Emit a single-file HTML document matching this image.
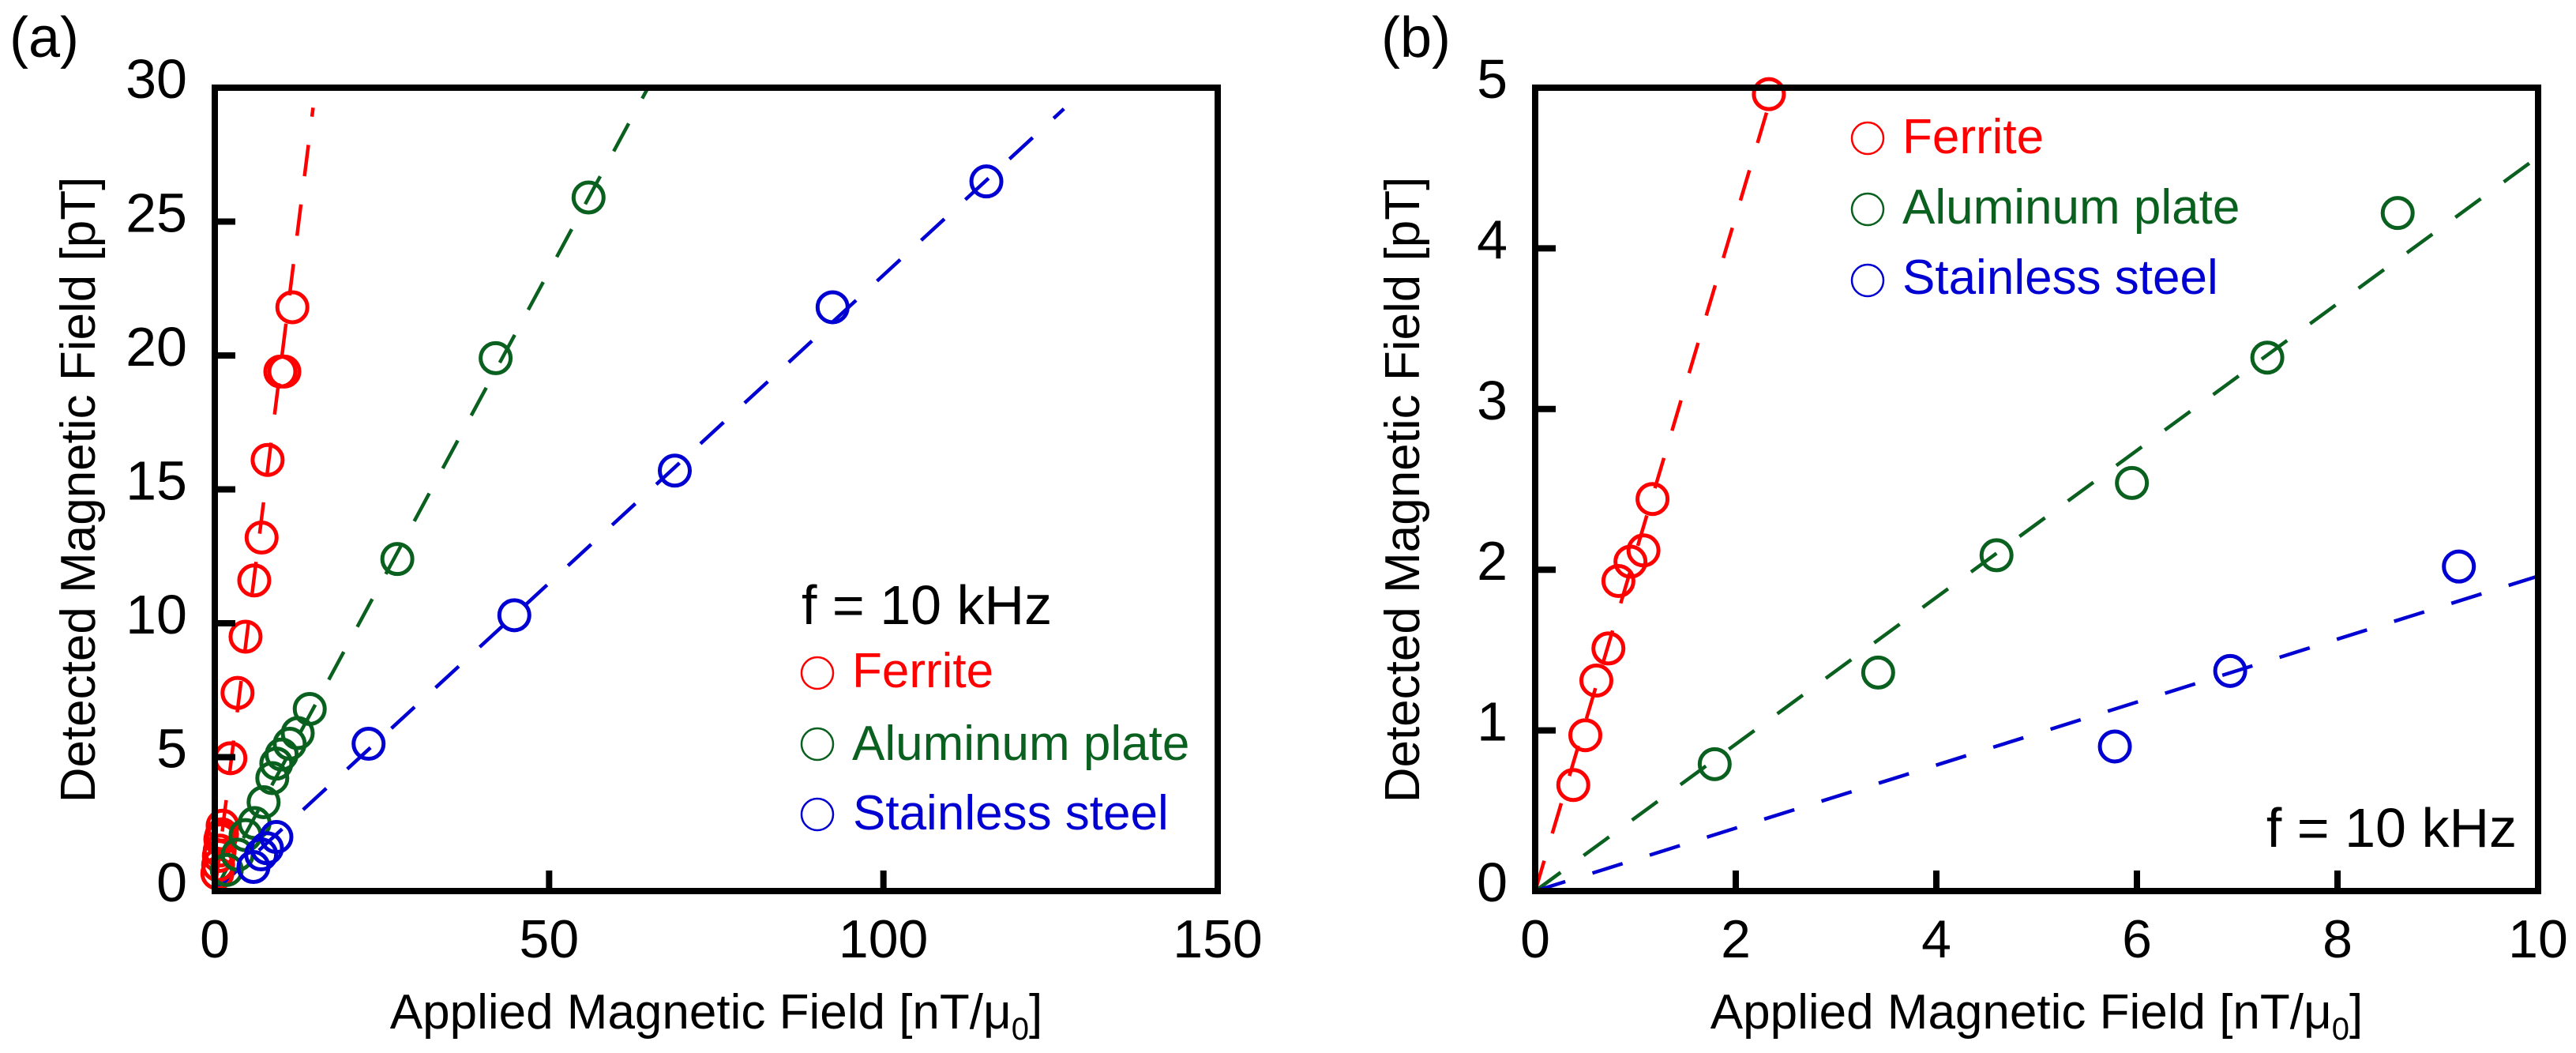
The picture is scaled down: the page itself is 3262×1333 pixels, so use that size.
<!DOCTYPE html>
<html><head><meta charset="utf-8"><style>
html,body{margin:0;padding:0;background:#fff;}
svg{display:block;font-family:"Liberation Sans",Arial,sans-serif;}
</style></head><body>
<svg id="chart" width="3262" height="1333" viewBox="0 0 3262 1333" xmlns="http://www.w3.org/2000/svg">
<rect width="3262" height="1333" fill="#fff"/>
<g id="pa"></g>
<g id="pb"></g>
</svg>
<script>
const NS="http://www.w3.org/2000/svg";
const seriesNames=["Ferrite","Aluminum plate","Stainless steel"];
const seriesColors=["#ff0000","#0a601e","#0000d2"];
// Panel (a) data
const aFerriteX=[0.38,0.50,0.61,0.73,0.83,0.95,1.08,1.17,2.33,3.4,4.6,5.9,7.0,7.9,9.8,10.4,11.6];
const aFerriteY=[0.66,0.97,1.31,1.51,1.93,2.05,2.12,2.44,4.96,7.4,9.5,11.6,13.2,16.1,19.4,19.4,21.8];
const aAlumX=[1.79,3.42,4.6,5.95,7.3,8.6,9.2,10.0,11.2,12.4,14.2,27.3,42.0,55.9];
const aAlumY=[0.79,1.36,2.09,2.54,3.32,4.22,4.76,5.1,5.5,5.9,6.8,12.4,19.9,25.9];
const aSteelX=[5.78,6.93,7.8,9.21,23.0,44.8,68.8,92.4,115.4];
const aSteelY=[0.9,1.37,1.6,2.02,5.5,10.3,15.7,21.8,26.5];
const aFitSlope=[1.99,0.463,0.23];
const aFitEndX=[14.7,64.8,127];
const aXTicks=[0,50,100,150];
const aYTicks=[0,5,10,15,20,25,30];
// Panel (b) data
const bFerriteX=[0.38,0.50,0.61,0.73,0.83,0.95,1.08,1.17,2.33];
const bFerriteY=[0.66,0.97,1.31,1.51,1.93,2.05,2.12,2.44,4.96];
const bAlumX=[1.79,3.42,4.6,5.95,7.3,8.6];
const bAlumY=[0.79,1.36,2.09,2.54,3.32,4.22];
const bSteelX=[5.78,6.93,9.21];
const bSteelY=[0.9,1.37,2.02];
const bFitSlope=[2.1,0.457,0.196];
const bFitEndX=[2.38,10,10];
const bXTicks=[0,2,4,6,8,10];
const bYTicks=[0,1,2,3,4,5];

function mk(tag,attrs,parent){const e=document.createElementNS(NS,tag);for(const k in attrs)e.setAttribute(k,attrs[k]);parent.appendChild(e);return e;}

function panel(g,opt){
  const L=opt.L,R=opt.R,T=111,B=1128;
  const sx=v=>L+(v-opt.xmin)/(opt.xmax-opt.xmin)*(R-L);
  const sy=v=>B-(v-opt.ymin)/(opt.ymax-opt.ymin)*(B-T);
  // fit lines
  for(let i=0;i<3;i++){
    const ln=mk("line",{x1:sx(0),y1:sy(0),x2:sx(opt.fitEnd[i]),y2:sy(opt.fitSlope[i]*opt.fitEnd[i]),stroke:seriesColors[i],"stroke-width":4.5,"stroke-dasharray":"40 36"},g);
    
    
  }
  // markers
  for(let i=0;i<3;i++){
    const xs=opt.xs[i],ys=opt.ys[i];
    for(let j=0;j<xs.length;j++){
      const c=mk("circle",{cx:sx(xs[j]),cy:sy(ys[j]),r:19,fill:"none",stroke:seriesColors[i],"stroke-width":5},g);
      
      
    }
  }
  // axes box
  const box=mk("rect",{x:L,y:T,width:R-L,height:B-T,fill:"none",stroke:"#000","stroke-width":8},g);
  
  
  // ticks
  opt.xt.forEach(v=>{
    const x=sx(v);
    if(v>opt.xmin&&v<opt.xmax){const t=mk("line",{x1:x,y1:B,x2:x,y2:B-26,stroke:"#000","stroke-width":8},g);
      
      }
    const tx=mk("text",{x:x,y:1212,"font-size":68,"text-anchor":"middle",fill:"#000"},g);
    tx.textContent=v;
    
    
  });
  opt.yt.forEach(v=>{
    const y=sy(v);
    if(v>opt.ymin&&v<opt.ymax){const t=mk("line",{x1:L,y1:y,x2:L+26,y2:y,stroke:"#000","stroke-width":8},g);
      
      }
    const tx=mk("text",{x:L-35,y:y+13,"font-size":70,"text-anchor":"end",fill:"#000"},g);
    tx.textContent=v;
    
    
  });
}

const ga=document.getElementById("pa"), gb=document.getElementById("pb");
panel(ga,{L:272,R:1542,xmin:0,xmax:150,ymin:0,ymax:30,xs:[aFerriteX,aAlumX,aSteelX],ys:[aFerriteY,aAlumY,aSteelY],fitSlope:aFitSlope,fitEnd:aFitEndX,xt:aXTicks,yt:aYTicks});
panel(gb,{L:1944,R:3214,xmin:0,xmax:10,ymin:0,ymax:5,xs:[bFerriteX,bAlumX,bSteelX],ys:[bFerriteY,bAlumY,bSteelY],fitSlope:bFitSlope,fitEnd:bFitEndX,xt:bXTicks,yt:bYTicks});
</script>
<svg style="position:absolute;left:0;top:0" width="3262" height="1333" xmlns="http://www.w3.org/2000/svg" font-family="Liberation Sans, Arial, sans-serif">
<text x="12" y="72" font-size="72">(a)</text>
<text x="1749" y="72" font-size="72">(b)</text>
<text x="907" y="1302" font-size="62" text-anchor="middle">Applied Magnetic Field [nT/μ<tspan font-size="40" dy="14">0</tspan><tspan dy="-14">]</tspan></text>
<text x="2579" y="1302" font-size="62" text-anchor="middle">Applied Magnetic Field [nT/μ<tspan font-size="40" dy="14">0</tspan><tspan dy="-14">]</tspan></text>
<text transform="translate(120,620) rotate(-90)" font-size="62" text-anchor="middle">Detected Magnetic Field [pT]</text>
<text transform="translate(1797,620) rotate(-90)" font-size="62" text-anchor="middle">Detected Magnetic Field [pT]</text>
<g>
<text x="1015" y="790" font-size="70">f = 10 kHz</text>
<circle cx="1035" cy="852" r="20" fill="none" stroke="#ff0000" stroke-width="2.5"/>
<text x="1079" y="870" font-size="62" fill="#ff0000">Ferrite</text>
<circle cx="1035" cy="942" r="20" fill="none" stroke="#0a601e" stroke-width="2.5"/>
<text x="1079" y="962" font-size="62" fill="#0a601e">Aluminum plate</text>
<circle cx="1035" cy="1031" r="20" fill="none" stroke="#0000d2" stroke-width="2.5"/>
<text x="1080" y="1050" font-size="62" fill="#0000d2">Stainless steel</text>
</g>
<g>
<circle cx="2365" cy="175" r="20" fill="none" stroke="#ff0000" stroke-width="2.5"/>
<text x="2409" y="194" font-size="62" fill="#ff0000">Ferrite</text>
<circle cx="2365" cy="265" r="20" fill="none" stroke="#0a601e" stroke-width="2.5"/>
<text x="2409" y="283" font-size="62" fill="#0a601e">Aluminum plate</text>
<circle cx="2365" cy="355" r="20" fill="none" stroke="#0000d2" stroke-width="2.5"/>
<text x="2409" y="372" font-size="62" fill="#0000d2">Stainless steel</text>
<text x="3187" y="1072" font-size="70" text-anchor="end">f = 10 kHz</text>
</g>
</svg>
</body></html>
